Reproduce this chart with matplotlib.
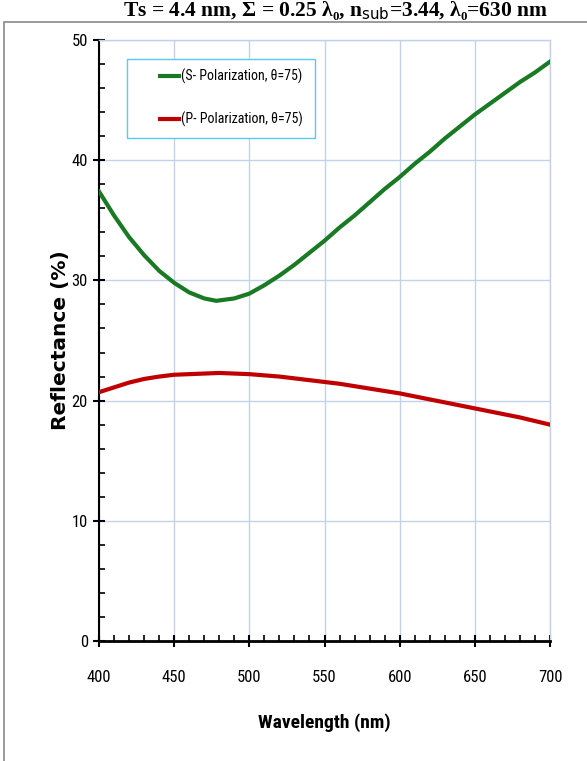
import matplotlib
matplotlib.use("Agg")
import matplotlib.pyplot as plt
from matplotlib import font_manager
from matplotlib.patches import Rectangle
from matplotlib.ticker import MultipleLocator

# reflectance vs wavelength, theta = 75 deg
wl_s = [400, 405, 410, 420, 430, 440, 450, 460, 470, 478, 490, 500, 510, 520, 530, 540,
        550, 560, 570, 580, 590, 600, 610, 620, 630, 640, 650, 660, 670, 680, 690, 700]
r_s = [37.4, 36.4, 35.4, 33.6, 32.1, 30.8, 29.8, 29.0, 28.5, 28.3, 28.5, 28.9, 29.6, 30.4, 31.3, 32.3,
       33.3, 34.4, 35.4, 36.5, 37.6, 38.6, 39.7, 40.7, 41.8, 42.8, 43.8, 44.7, 45.6, 46.5, 47.3, 48.2]

wl_p = [400, 410, 420, 430, 440, 450, 460, 470, 480, 490, 500, 510, 520, 530, 540, 550,
        560, 570, 580, 590, 600, 610, 620, 630, 640, 650, 660, 670, 680, 690, 700]
r_p = [20.7, 21.1, 21.5, 21.8, 22.0, 22.15, 22.2, 22.25, 22.3, 22.25, 22.2, 22.1, 22.0, 21.85, 21.7, 21.55,
       21.4, 21.2, 21.0, 20.8, 20.6, 20.35, 20.1, 19.85, 19.6, 19.35, 19.1, 18.85, 18.6, 18.3, 18.0]

label_s = "(S- Polarization, θ=75)"
label_p = "(P- Polarization, θ=75)"
title = "Ts = 4.4 nm, Σ = 0.25 λ₀, n$_\\mathrm{sub}$=3.44, λ₀=630 nm"

# pick a narrow sans if one is around
installed = {f.name for f in font_manager.fontManager.ttflist}
candidates = ["Liberation Sans Narrow", "Roboto Condensed", "Open Sans Condensed",
              "Archivo Narrow", "PT Sans Narrow", "Fira Sans Condensed", "Roboto"]
narrow = [n for n in candidates if n in installed][:1] + ["DejaVu Sans"]
grid_col = "#c3d2ec"

fig = plt.figure(figsize=(5.87, 7.61), dpi=100)
fig.patches.append(Rectangle((4 / 587, -0.05), 1.1, 1.05 - 22 / 761,
                             transform=fig.transFigure, fill=False,
                             edgecolor="#8a8a8a", linewidth=1.2))
fig.text(0.572, 1 - 16 / 761, title, ha="center", va="baseline",
         family=["Liberation Serif", "DejaVu Serif"], fontweight="bold", fontsize=15.5)

ax = fig.add_axes([99 / 587, 1 - 641 / 761, 451 / 587, 601 / 761])
ax.plot(wl_s, r_s, color="#1a7a24", linewidth=3.0, label=label_s, zorder=3,
        solid_joinstyle="round")
ax.plot(wl_p, r_p, color="#c00000", linewidth=3.0, label=label_p, zorder=3,
        solid_joinstyle="round")

ax.set_xlim(400, 700)
ax.set_ylim(0, 50)
ax.xaxis.set_major_locator(MultipleLocator(50))
ax.xaxis.set_minor_locator(MultipleLocator(10))
ax.yaxis.set_major_locator(MultipleLocator(10))
ax.yaxis.set_minor_locator(MultipleLocator(2))
ax.grid(True, which="major", color=grid_col, linewidth=1.0, zorder=0)

for side in ("top", "right"):
    ax.spines[side].set_color(grid_col)
    ax.spines[side].set_linewidth(1.0)
ax.spines["left"].set_linewidth(1.5)
ax.spines["bottom"].set_linewidth(2.0)

ax.tick_params(which="major", direction="inout", length=8, width=1.5)
ax.tick_params(which="minor", direction="in", length=4, width=1.2)
ax.tick_params(axis="x", which="major", pad=17)
ax.tick_params(axis="y", which="major", pad=4)
for lab in ax.get_xticklabels() + ax.get_yticklabels():
    lab.set_family(narrow)
    lab.set_fontsize(12)

ax.set_xlabel("Wavelength (nm)", family=narrow, fontweight="bold", fontsize=14, labelpad=20)
ax.set_ylabel("Reflectance (%)", family="DejaVu Sans", fontweight="bold", fontsize=14.5, labelpad=1)

# legend frame drawn separately so the padding can differ per side
ax.add_patch(Rectangle((28 / 451, 1 - 98 / 601), 188 / 451, 79 / 601,
                       transform=ax.transAxes, fill=True, facecolor="white",
                       edgecolor="#5bc8f0", linewidth=1.0, zorder=4))
leg = ax.legend(loc="upper left", bbox_to_anchor=(58 / 451, 1 - 26 / 601),
                prop={"family": narrow, "size": 10}, frameon=False,
                handlelength=1.4, handletextpad=0.15, labelspacing=2.0,
                borderpad=0.2, borderaxespad=0)
leg.set_zorder(5)

fig.savefig("out.png", dpi=100)
